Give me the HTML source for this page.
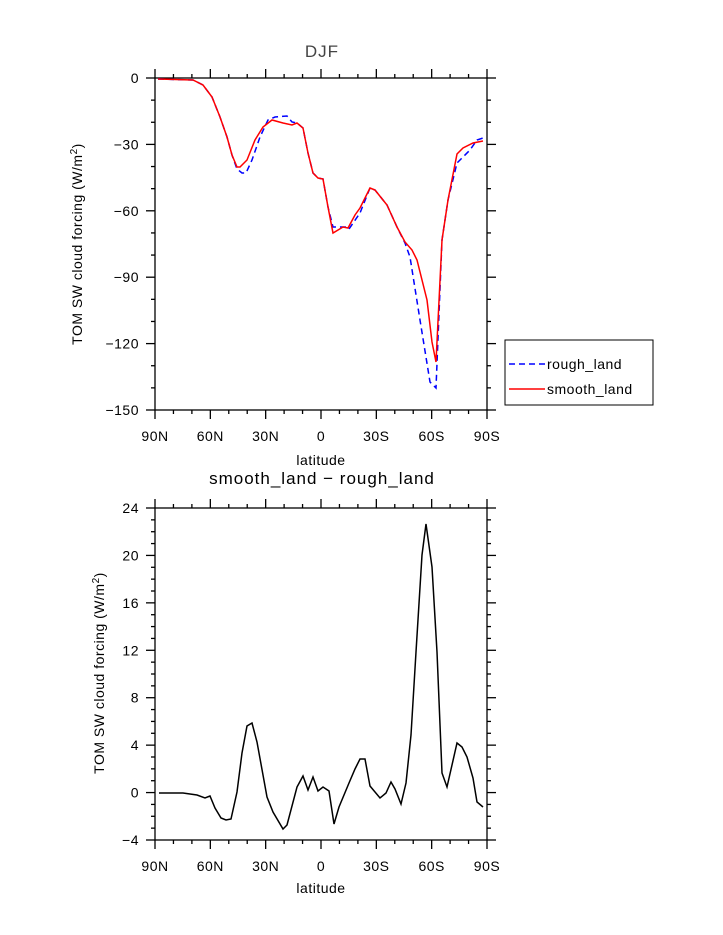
<!DOCTYPE html>
<html><head><meta charset="utf-8"><style>
html,body{margin:0;padding:0;background:#fff;}
svg{display:block;font-family:"Liberation Sans",sans-serif;}
</style></head><body>
<svg id="s" width="723" height="935" viewBox="0 0 723 935" xmlns="http://www.w3.org/2000/svg">
<rect width="723" height="935" fill="#fff"/>
<g id="ax" stroke="#000" stroke-width="1.3" fill="none"></g>
<g id="tx" font-size="14" fill="#000" letter-spacing="0.5"></g>
<text x="322" y="57" font-size="17" text-anchor="middle" fill="#444" letter-spacing="1">DJF</text>
<text x="322" y="484" font-size="17" text-anchor="middle" fill="#000" letter-spacing="1">smooth_land − rough_land</text>
<text x="321" y="465" font-size="14" text-anchor="middle" letter-spacing="0.5">latitude</text>
<text x="321" y="893" font-size="14" text-anchor="middle" letter-spacing="0.5">latitude</text>
<text transform="translate(82,244) rotate(-90)" font-size="14" text-anchor="middle" letter-spacing="0.5">TOM SW cloud forcing (W/m<tspan dy="-5" font-size="10">2</tspan><tspan dy="5">)</tspan></text>
<text transform="translate(104,673) rotate(-90)" font-size="14" text-anchor="middle" letter-spacing="0.5">TOM SW cloud forcing (W/m<tspan dy="-5" font-size="10">2</tspan><tspan dy="5">)</tspan></text>
<polyline fill="none" stroke="#0000ff" stroke-width="1.5" stroke-dasharray="6,4" points="158,79 193,80 203,85 212,97 220,117 227,137 232,155 237,169 242,173 246,173 252,160 260,137 268,120 275,117 287,116 292,122 297,123 303,128 308,153 313,173 318,178 323,179 328,207 333,227 347,227 349,229 360,213 370,188 375,190 387,205 397,227 405,243 410,257 420,320 430,382 436,388 442,240 448,200 457,163 470,150 477,140 483,138"/>
<polyline fill="none" stroke="#ff0000" stroke-width="1.5" points="158,79 193,80 203,85 212,97 220,117 227,137 232,155 237,167 240,167 247,160 255,140 263,127 272,120 283,123 292,125 297,123 303,128 308,153 313,173 318,178 323,179 328,207 333,233 343,227 348,228 355,215 360,208 370,188 375,190 387,205 397,227 405,242 412,250 417,260 427,300 432,342 436,362 442,240 448,200 457,154 463,148 473,143 483,141"/>
<polyline fill="none" stroke="#000" stroke-width="1.5" points="159,793 183,793 197,795 205,798 210,796 215,808 221,818 226,820 231,819 237,792 242,753 247,726 252,723 257,742 267,797 273,812 283,829 287,825 297,787 303,776 308,790 313,777 318,791 323,787 329,791 334,824 339,807 349,783 355,769 360,759 365,759 370,786 380,798 386,793 391,782 395,789 401,804 406,783 411,735 416,652 422,555 426,524 432,567 437,652 442,773 447,787 457,743 462,747 467,757 473,778 477,802 483,807"/>
<rect x="505" y="340" width="148" height="65" fill="none" stroke="#000" stroke-width="1"/>
<line x1="509" y1="364" x2="545" y2="364" stroke="#0000ff" stroke-width="1.5" stroke-dasharray="6,4"/>
<line x1="509" y1="389" x2="545" y2="389" stroke="#ff0000" stroke-width="1.5"/>
<text x="547" y="369" font-size="14" letter-spacing="0.5">rough_land</text>
<text x="547" y="394" font-size="14" letter-spacing="0.5">smooth_land</text>
</svg>
<script>
var ax=document.getElementById('ax'),tx=document.getElementById('tx');
function L(a,b,c,d){ax.insertAdjacentHTML('beforeend','<line x1="'+a+'" y1="'+b+'" x2="'+c+'" y2="'+d+'"/>');}
function T(x,y,s,anc){tx.insertAdjacentHTML('beforeend','<text x="'+x+'" y="'+y+'" text-anchor="'+anc+'">'+s+'</text>');}
var X0=155,X1=487;
function panel(Y0,Y1,ymax,ymin,major,minor){
 ax.insertAdjacentHTML('beforeend','<rect x="'+X0+'" y="'+Y0+'" width="'+(X1-X0)+'" height="'+(Y1-Y0)+'"/>');
 var xl=['90N','60N','30N','0','30S','60S','90S'];
 for(var i=0;i<=18;i++){var x=X0+(X1-X0)*i/18;var m=i%3==0;var l=m?9:4;
  L(x,Y0,x,Y0-l);L(x,Y1,x,Y1+l);
  if(m)T(x,Y1+31,xl[i/3],'middle');}
 for(var v=ymin;v<=ymax+1e-6;v+=minor){var y=Y0+(ymax-v)/(ymax-ymin)*(Y1-Y0);
  var m=Math.abs(Math.round(v/major)*major-v)<1e-6;var l=m?9:4;
  L(X0,y,X0-l,y);L(X1,y,X1+l,y);
  if(m)T(X0-16,y+5,(v<0?'−'+(-v):v),'end');}
}
panel(78,410,0,-150,30,10);
panel(508,840,24,-4,4,1);
</script>
</body></html>
